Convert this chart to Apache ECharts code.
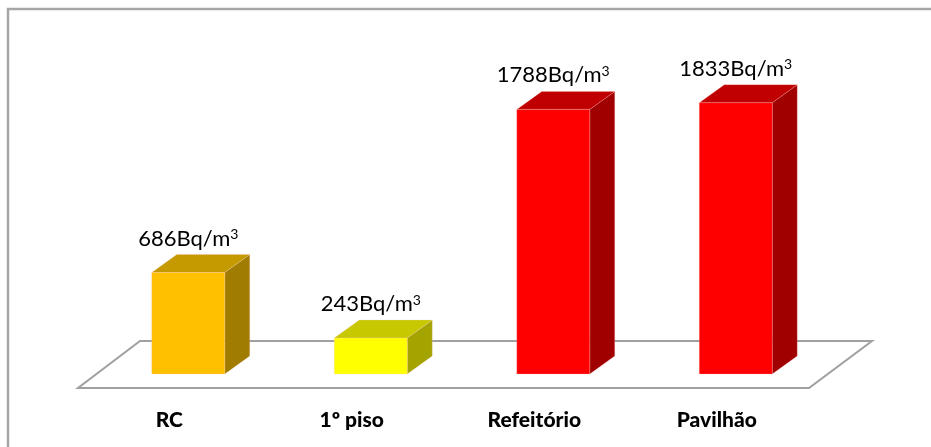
<!DOCTYPE html>
<html>
<head>
<meta charset="utf-8">
<script src="https://cdn.jsdelivr.net/npm/echarts@6/dist/echarts.min.js"></script>
<style>html,body{margin:0;padding:0;background:#fff}#c{width:931px;height:447px}</style>
</head>
<body>
<div id="c"></div>
<script>
const categories = ['RC', '1º piso', 'Refeitório', 'Pavilhão'];
const values = [686, 243, 1788, 1833];
const unitLabel = 'Bq/m';
const frontColors = ['#FFC000', '#FFFF00', '#FF0000', '#FF0000'];
const topColors = ['#C49A00', '#C8C800', '#C00000', '#C00000'];
const sideColors = ['#A07C00', '#A4A400', '#A00000', '#A00000'];

const chart = echarts.init(document.getElementById('c'), null, {renderer: 'canvas'});
const DX = 25, DY = -18;
const FONT = 'Lato, "Open Sans", sans-serif';

chart.setOption({
  backgroundColor: '#fff',
  animation: false,
  grid: {left: 97, right: 104, top: 78, bottom: 73},
  xAxis: {
    type: 'category',
    data: categories,
    axisLine: {show: false},
    axisTick: {show: false},
    splitLine: {show: false},
    axisLabel: {margin: 36, padding: [0, 38, 0, 0], fontFamily: FONT, fontSize: 21, fontWeight: 900, color: '#000'}
  },
  yAxis: {type: 'value', min: 0, max: 2000, show: false},
  graphic: [
    {type: 'polygon', z: -10, shape: {points: [[78, 388], [809, 388], [872, 341], [140, 341]]},
     style: {fill: '#fff', stroke: '#A0A0A0', lineWidth: 2}},
    {type: 'polyline', z: -10, shape: {points: [[8, 460], [8, 9], [940, 9]]},
     style: {fill: null, stroke: '#A6A6A6', lineWidth: 2.5}}
  ],
  series: [{
    type: 'custom',
    data: values.map((v, i) => [i, v]),
    encode: {x: 0, y: 1},
    renderItem: function (params, api) {
      const i = params.dataIndex;
      const xi = api.value(0), v = api.value(1);
      const base = api.coord([xi, 0]);
      const top = api.coord([xi, v]);
      const w = api.size([1, 0])[0] * 0.4;
      const x0 = base[0] - w / 2, x1 = base[0] + w / 2;
      const y0 = base[1], y1 = top[1];
      return {
        type: 'group',
        children: [
          {type: 'polygon', shape: {points: [[x1, y0], [x1 + DX, y0 + DY], [x1 + DX, y1 + DY], [x1, y1]]},
           style: {fill: sideColors[i], stroke: 'rgba(255,200,200,0.5)', lineWidth: 0.5}},
          {type: 'polygon', shape: {points: [[x0, y1], [x0 + DX, y1 + DY], [x1 + DX, y1 + DY], [x1, y1]]},
           style: {fill: topColors[i], stroke: 'rgba(255,200,200,0.5)', lineWidth: 0.5}},
          {type: 'rect', shape: {x: x0, y: y1, width: w, height: y0 - y1},
           style: {fill: frontColors[i], stroke: 'rgba(255,200,200,0.5)', lineWidth: 0.5}},
          {type: 'text', x: base[0], y: y1 + DY - 5,
           style: {
             text: '{a|' + values[i] + unitLabel + '}{s|3}',
             align: 'center', verticalAlign: 'bottom',
             rich: {
               a: {fontFamily: FONT, fontSize: 22, color: '#000'},
               s: {fontFamily: FONT, fontSize: 14, color: '#000', verticalAlign: 'top', padding: [0, 0, 8, 0]}
             }
           }}
        ]
      };
    }
  }]
});
</script>
</body>
</html>
